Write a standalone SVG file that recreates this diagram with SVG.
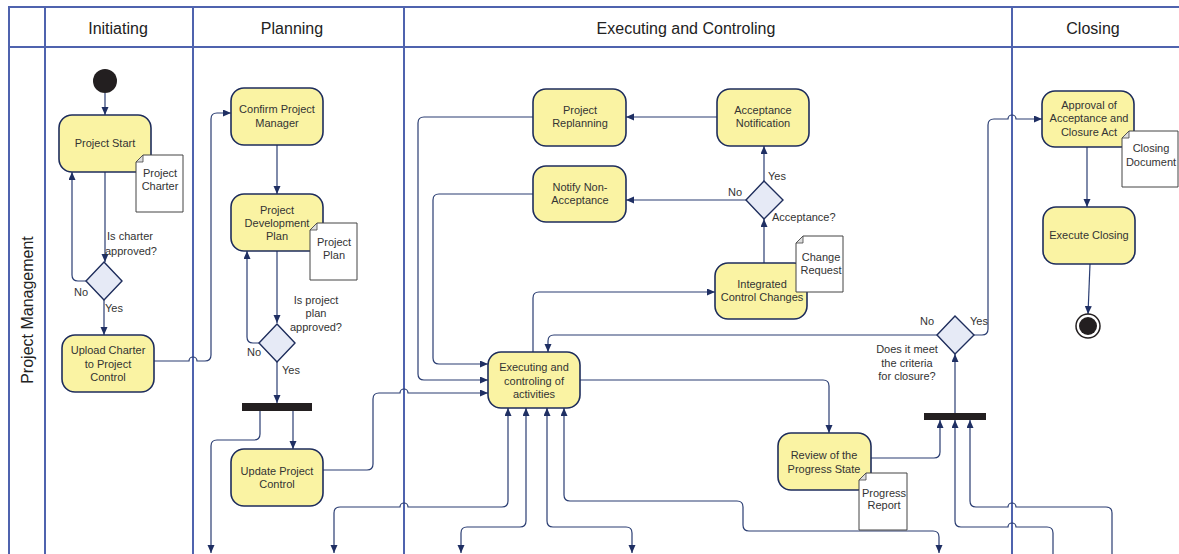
<svg xmlns="http://www.w3.org/2000/svg" width="1179" height="554" viewBox="0 0 1179 554">
<style>
.lane{stroke:#4F63AE;stroke-width:2;fill:none}
.hdr{font-family:"Liberation Sans",Arial,sans-serif;font-size:16px;fill:#222;text-anchor:middle}
.node rect{fill:#FAF3A3;stroke:#1E2D5C;stroke-width:1.6}
.t{font-family:"Liberation Sans",Arial,sans-serif;font-size:11px;fill:#333;text-anchor:middle}
.lbl{font-family:"Liberation Sans",Arial,sans-serif;font-size:11px;fill:#333}
.dia{fill:#E6EAF6;stroke:#1E2D5C;stroke-width:1.4}
.doc{fill:#fff;stroke:#444;stroke-width:1}
.fold{fill:#ddd;stroke:#444;stroke-width:0.8}
.c{fill:none;stroke:#2A3D72;stroke-width:1.2;marker-end:url(#ah)}
.b{marker-start:url(#ah)}
.n{marker-end:none}
</style>
<defs>
<marker id="ah" markerUnits="userSpaceOnUse" markerWidth="9" markerHeight="8" refX="8" refY="3.5" orient="auto-start-reverse" viewBox="0 0 9 8">
<path d="M0,0 L8,3.5 L0,7 z" fill="#1F2F63"/>
</marker>
</defs>
<rect width="1179" height="554" fill="#fff"/>
<g id="lanes">
<path class="lane" d="M9,554 L9,7 L1179,7 M9,47 L1179,47 M45,7 L45,554 M193,7 L193,554 M404,7 L404,554 M1012,7 L1012,554"/>
<text class="hdr" x="118" y="34">Initiating</text>
<text class="hdr" x="292" y="34">Planning</text>
<text class="hdr" x="686" y="34">Executing and Controling</text>
<text class="hdr" x="1093" y="34">Closing</text>
<text class="hdr" x="33" y="310" transform="rotate(-90 33 310)">Project Management</text>
</g>
<g id="connectors">
<path class="c" d="M105,93 L105,115"/>
<path class="c" d="M105,172 L105,262"/>
<path class="c" d="M86,281 L78,281 Q72,281 72,275 L72,172"/>
<path class="c" d="M104,300 L104,335"/>
<path class="c" d="M154,361 L189,361 A4,4 0 0 1 197,361 L205,361 Q211,361 211,355 L211,119 Q211,113 217,113 L231,113"/>
<path class="c" d="M277,145 L277,194"/>
<path class="c" d="M277,251 L277,323"/>
<path class="c" d="M259,343 L253,343 Q247,343 247,337 L247,251"/>
<path class="c" d="M277,362 L277,403"/>
<path class="c" d="M293,411 L293,449"/>
<path class="c" d="M260,411 L260,434 Q260,440 254,440 L217,440 Q211,440 211,446 L211,553"/>
<path class="c" d="M323,470 L367,470 Q373,470 373,464 L373,399 Q373,393 379,393 L400,393 A4,4 0 0 1 408,393 L488,393"/>
<path class="c" d="M533,194 L439,194 Q433,194 433,200 L433,358 Q433,364 439,364 L488,364"/>
<path class="c" d="M533,117 L424,117 Q418,117 418,123 L418,374 Q418,380 424,380 L488,380"/>
<path class="c" d="M533,352 L533,298 Q533,292 539,292 L715,292"/>
<path class="c" d="M764,263 L764,219"/>
<path class="c" d="M764,181 L764,146"/>
<path class="c" d="M717,117 L626,117"/>
<path class="c" d="M746,200 L626,200"/>
<path class="c" d="M580,380 L823,380 Q829,380 829,386 L829,433"/>
<path class="c" d="M871,458 L934,458 Q940,458 940,452 L940,420"/>
<path class="c" d="M955,413 L955,354"/>
<path class="c" d="M937,335 L554,335 Q548,335 548,341 L548,352"/>
<path class="c" d="M974,335 L982,335 Q988,335 988,329 L988,125 Q988,119 994,119 L1008,119 A4,4 0 0 1 1016,119 L1042,119"/>
<path class="c" d="M1087,147 L1087,207"/>
<path class="c" d="M1090,264 L1088,314"/>
<path class="c" d="M1053,554 L1053,533 Q1053,527 1047,527 L1016,527 A4,4 0 0 0 1008,527 L961,527 Q955,527 955,521 L955,420"/>
<path class="c" d="M1112,554 L1112,513 Q1112,507 1106,507 L1016,507 A4,4 0 0 0 1008,507 L976,507 Q970,507 970,501 L970,420"/>
<path class="c b" d="M334,553 L334,513 Q334,507 340,507 L400,507 A4,4 0 0 1 408,507 L502,507 Q508,507 508,501 L508,408"/>
<path class="c b" d="M461,553 L461,533 Q461,527 467,527 L520,527 Q526,527 526,521 L526,408"/>
<path class="c b" d="M632,553 L632,533 Q632,527 626,527 L553,527 Q547,527 547,521 L547,408"/>
<path class="c b" d="M939,553 L939,537 Q939,531 933,531 L749,531 Q743,531 743,525 L743,507 Q743,501 737,501 L570,501 Q564,501 564,495 L564,408"/>
</g>
<g id="start"><circle cx="105" cy="81" r="12" fill="#231F20"/></g>
<g id="end"><circle cx="1088" cy="326" r="12" fill="#fff" stroke="#231F20" stroke-width="1.5"/><circle cx="1088" cy="326" r="9" fill="#231F20"/></g>
<g id="project-start" class="node"><rect x="59" y="115" width="92" height="57" rx="13"/><text class="t" x="105" y="147">Project Start</text></g>
<g id="project-charter"><path class="doc" d="M143,155 L183,155 L183,212 L136,212 L136,162 Z"/><path class="fold" d="M136,162 L143,162 L143,155 Z"/><text class="t" x="160" y="177">Project</text><text class="t" x="160" y="190">Charter</text></g>
<g id="d-charter"><polygon class="dia" points="104,262 122,281 104,300 86,281"/><text class="t" x="130" y="240">Is charter</text><text class="t" x="131" y="255">approved?</text><text class="lbl" x="74" y="296">No</text><text class="lbl" x="105" y="312">Yes</text></g>
<g id="upload-charter" class="node"><rect x="62" y="335" width="92" height="57" rx="13"/><text class="t" x="108" y="354">Upload Charter</text><text class="t" x="108" y="368">to Project</text><text class="t" x="108" y="381">Control</text></g>
<g id="confirm-pm" class="node"><rect x="231" y="88" width="92" height="57" rx="13"/><text class="t" x="277" y="113">Confirm Project</text><text class="t" x="277" y="127">Manager</text></g>
<g id="pdp" class="node"><rect x="231" y="194" width="92" height="57" rx="13"/><text class="t" x="277" y="214">Project</text><text class="t" x="277" y="227">Development</text><text class="t" x="277" y="240">Plan</text></g>
<g id="project-plan"><path class="doc" d="M317,223 L357,223 L357,280 L310,280 L310,230 Z"/><path class="fold" d="M310,230 L317,230 L317,223 Z"/><text class="t" x="334" y="246">Project</text><text class="t" x="334" y="259">Plan</text></g>
<g id="d-plan"><polygon class="dia" points="277,324 295,343 277,362 259,343"/><text class="t" x="316" y="304">Is project</text><text class="t" x="316" y="317">plan</text><text class="t" x="316" y="331">approved?</text><text class="lbl" x="247" y="356">No</text><text class="lbl" x="282" y="374">Yes</text></g>
<g id="fork1"><rect x="242" y="403" width="70" height="8" fill="#231F20"/></g>
<g id="update-pc" class="node"><rect x="231" y="449" width="92" height="57" rx="13"/><text class="t" x="277" y="475">Update Project</text><text class="t" x="277" y="488">Control</text></g>
<g id="replanning" class="node"><rect x="533" y="89" width="93" height="57" rx="13"/><text class="t" x="580" y="114">Project</text><text class="t" x="580" y="127">Replanning</text></g>
<g id="acc-notif" class="node"><rect x="717" y="89" width="92" height="57" rx="13"/><text class="t" x="763" y="114">Acceptance</text><text class="t" x="763" y="127">Notification</text></g>
<g id="notify-non" class="node"><rect x="533" y="166" width="93" height="56" rx="13"/><text class="t" x="580" y="191">Notify Non-</text><text class="t" x="580" y="204">Acceptance</text></g>
<g id="d-accept"><polygon class="dia" points="764,181 783,200 764,219 746,200"/><text class="lbl" x="772" y="221">Acceptance?</text><text class="lbl" x="768" y="180">Yes</text><text class="lbl" x="728" y="196">No</text></g>
<g id="integrated" class="node"><rect x="715" y="263" width="92" height="56" rx="13"/><text class="t" x="762" y="288">Integrated</text><text class="t" x="762" y="301">Control Changes</text></g>
<g id="change-request"><path class="doc" d="M803,236 L843,236 L843,292 L796,292 L796,243 Z"/><path class="fold" d="M796,243 L803,243 L803,236 Z"/><text class="t" x="821" y="261">Change</text><text class="t" x="821" y="274">Request</text></g>
<g id="executing" class="node"><rect x="488" y="352" width="92" height="56" rx="13"/><text class="t" x="534" y="371">Executing and</text><text class="t" x="534" y="385">controling of</text><text class="t" x="534" y="398">activities</text></g>
<g id="review" class="node"><rect x="778" y="433" width="93" height="57" rx="13"/><text class="t" x="824" y="459">Review of the</text><text class="t" x="824" y="473">Progress State</text></g>
<g id="progress-report"><path class="doc" d="M866,473 L907,473 L907,530 L859,530 L859,480 Z"/><path class="fold" d="M859,480 L866,480 L866,473 Z"/><text class="t" x="884" y="497">Progress</text><text class="t" x="884" y="509">Report</text></g>
<g id="fork2"><rect x="924" y="413" width="62" height="7" fill="#231F20"/></g>
<g id="d-closure"><polygon class="dia" points="955,316 974,335 955,354 937,335"/><text class="t" x="907" y="353">Does it meet</text><text class="t" x="907" y="367">the criteria</text><text class="t" x="907" y="380">for closure?</text><text class="lbl" x="920" y="325">No</text><text class="lbl" x="970" y="325">Yes</text></g>
<g id="approval" class="node"><rect x="1042" y="91" width="92" height="56" rx="13"/><text class="t" x="1089" y="109">Approval of</text><text class="t" x="1089" y="122">Acceptance and</text><text class="t" x="1089" y="136">Closure Act</text></g>
<g id="closing-doc"><path class="doc" d="M1129,131 L1178,131 L1178,187 L1122,187 L1122,138 Z"/><path class="fold" d="M1122,138 L1129,138 L1129,131 Z"/><text class="t" x="1151" y="152">Closing</text><text class="t" x="1151" y="166">Document</text></g>
<g id="exec-closing" class="node"><rect x="1043" y="207" width="92" height="57" rx="13"/><text class="t" x="1089" y="239">Execute Closing</text></g>
</svg>
